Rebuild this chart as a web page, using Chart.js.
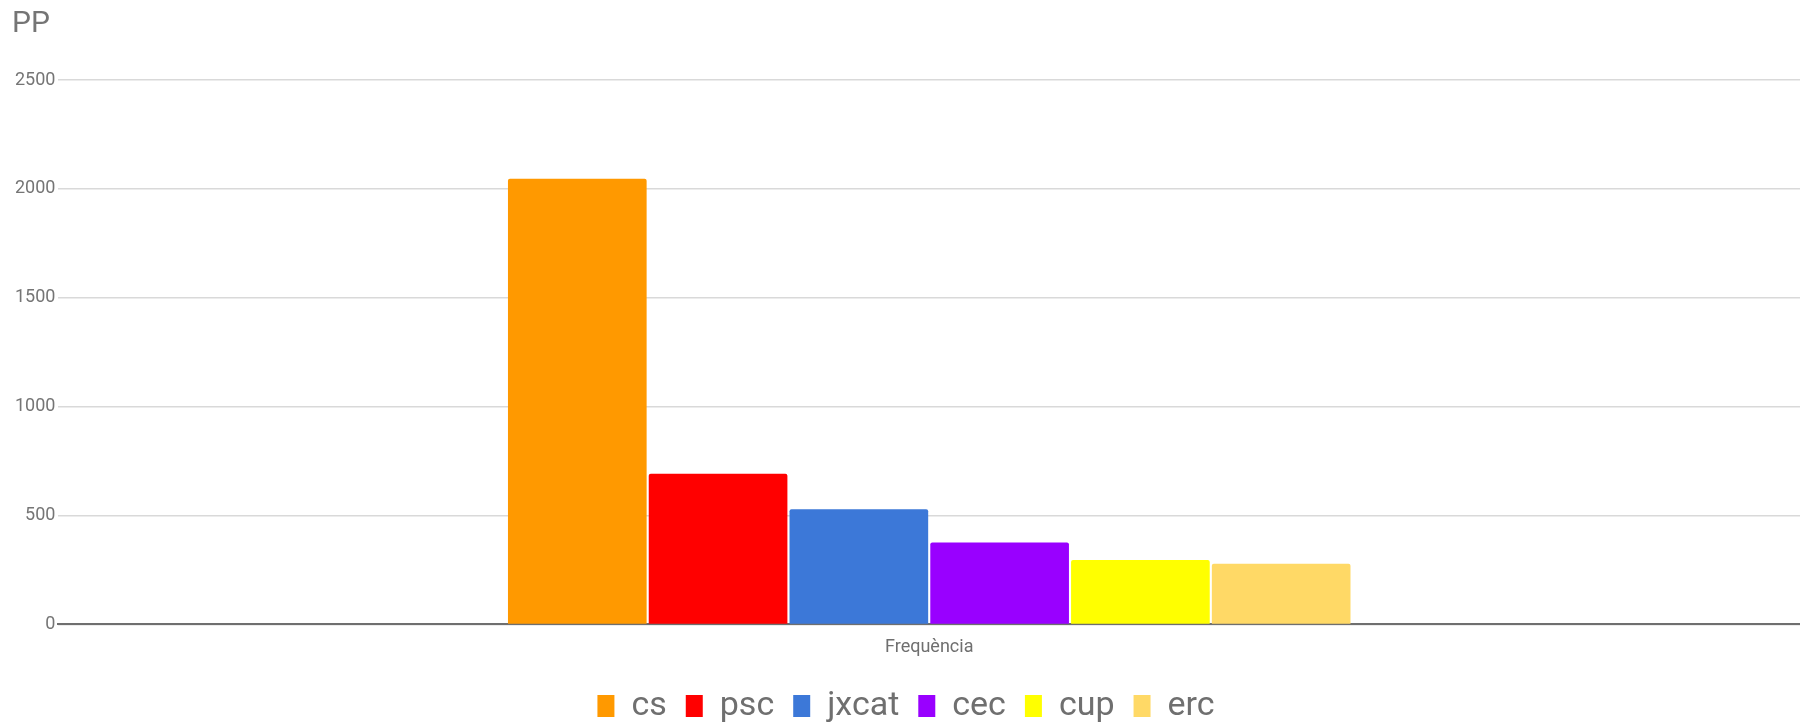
<!DOCTYPE html>
<html>
<head>
<meta charset="utf-8">
<script src="https://cdn.jsdelivr.net/npm/chart.js@4/dist/chart.umd.min.js"></script>
<style>
  html, body { margin: 0; padding: 0; background: #fff; }
  #wrap { width: 1800px; height: 724px; }
</style>
</head>
<body>
<div id="wrap"><canvas id="ppChart"></canvas></div>
<script>
// data
const categories = ["Frequència"];
const parties = ["cs", "psc", "jxcat", "cec", "cup", "erc"];
const votes = [2046, 692, 529, 376, 296, 279];
const partyColors = ["#FF9900", "#FF0000", "#3C78D8", "#9900FF", "#FFFF00", "#FFD966"];
const yTicks = [0, 500, 1000, 1500, 2000, 2500];

Chart.defaults.font.family = "Roboto, 'Noto Sans', sans-serif";
Chart.defaults.color = "#757575";

const datasets = parties.map((p, i) => ({
    label: p,
    data: [votes[i]],
    backgroundColor: partyColors[i],
    borderWidth: 0,
    borderRadius: 2,
    borderSkipped: 'bottom'
}));

const ctx = document.getElementById("ppChart");
new Chart(ctx, {
    type: 'bar',
    data: {
        labels: categories,
        datasets: datasets
    },
    options: {
        responsive: true,
        maintainAspectRatio: false,
        animation: false,
        layout: {
            padding: { left: 12, right: 0, top: 6, bottom: -9 }
        },
        datasets: {
            bar: {
                categoryPercentage: 0.485,
                barPercentage: 0.985
            }
        },
        scales: {
            x: {
                grid: { display: false, drawTicks: false },
                border: { display: true, color: "#6f6f6f", width: 2 },
                ticks: {
                    padding: 12,
                    color: "#6f6f6f",
                    font: { size: 18 }
                }
            },
            y: {
                min: yTicks[0],
                max: yTicks[yTicks.length - 1],
                afterBuildTicks: axis => { axis.ticks = yTicks.map(v => ({ value: v })); },
                border: { display: false },
                grid: {
                    color: "#d9d9d9",
                    lineWidth: 1.5,
                    drawTicks: false
                },
                ticks: {
                    padding: 3,
                    color: "#757575",
                    font: { size: 18 },
                    callback: v => String(v)
                }
            }
        },
        plugins: {
            title: {
                display: true,
                text: "PP",
                align: 'start',
                color: "#757575",
                font: { size: 30, weight: 'normal' },
                padding: { top: 0, bottom: 38 }
            },
            legend: {
                display: true,
                position: 'bottom',
                labels: {
                    boxWidth: 17,
                    boxHeight: 22,
                    padding: 19,
                    color: "#6f6f6f",
                    font: { size: 34 }
                }
            },
            tooltip: { enabled: false }
        }
    }
});
</script>
</body>
</html>
